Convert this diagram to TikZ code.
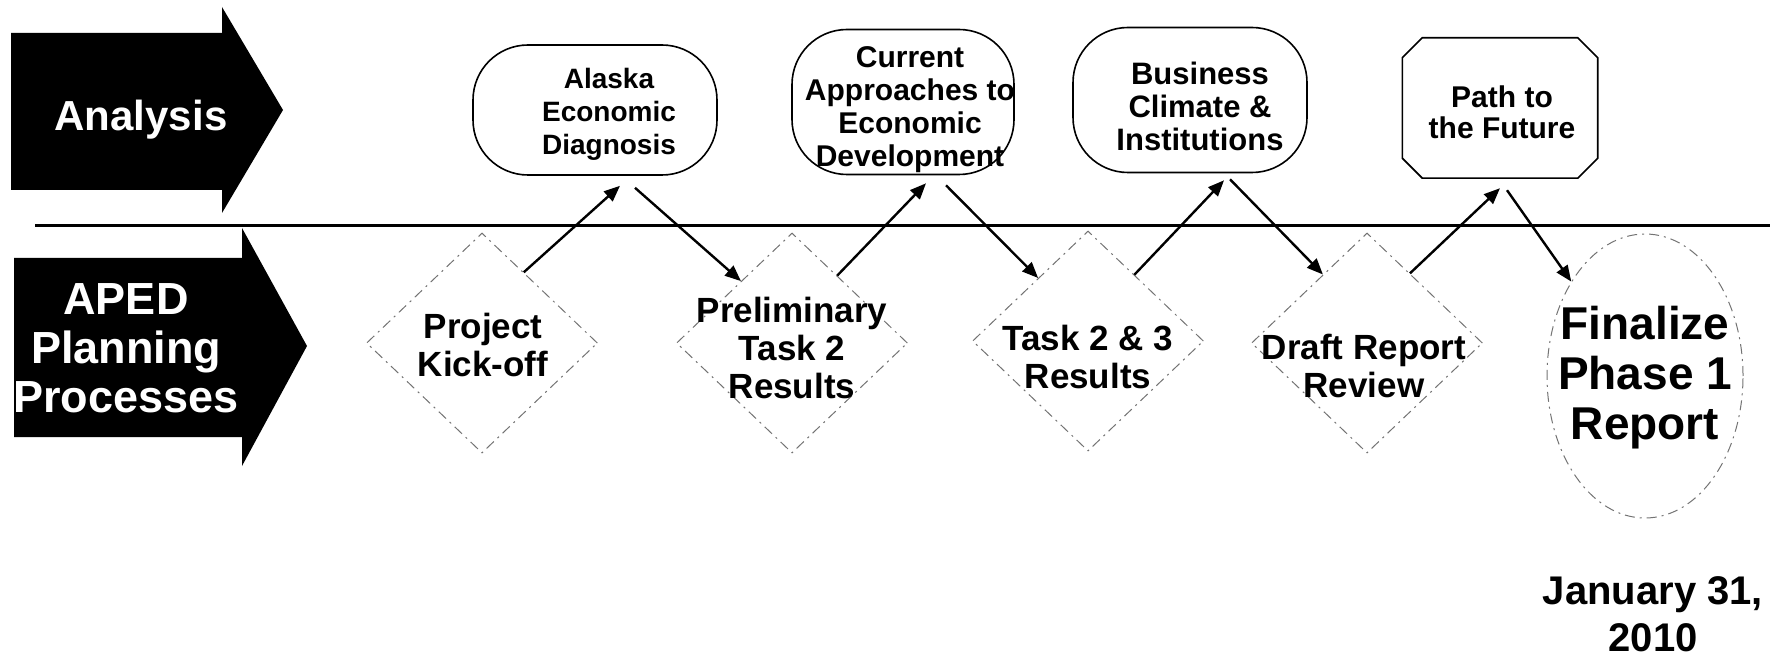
\documentclass[tikz,border=0pt]{standalone}
\usepackage{fontspec}
\setmainfont{Liberation Sans}
\usetikzlibrary{calc,arrows.meta,shapes.geometric}
\begin{document}
\begin{tikzpicture}[x=1pt,y=-1pt,
  anabox/.style={draw,line width=1.6pt,rounded corners=55pt,inner sep=0pt},
  anatext/.style={align=center,inner sep=0pt},
  proc/.style={diamond,draw=black!55,dash pattern=on 10pt off 5pt on 2pt off 5pt,line width=1pt,
    inner sep=0pt,minimum width=231pt,minimum height=220pt},
  proctext/.style={align=center,inner sep=0pt,font=\bfseries\fontsize{35}{38}\selectfont},
  conn/.style={line width=2.4pt,-{Triangle[length=16pt,width=13pt]}},
  bannertext/.style={text=white,align=center,inner sep=0pt}]
\useasboundingbox (0,0) rectangle (1782,660);
% banners
\fill (11,33) -- (222,33) -- (222,7) -- (283,110) -- (222,213) -- (222,190) -- (11,190) -- cycle;
\node[bannertext,font=\bfseries\fontsize{42}{48}\selectfont] (antext) at (141,120) {Analysis};
\fill (14,258) -- (242,258) -- (242,228) -- (307,346) -- (242,466) -- (242,437) -- (14,437) -- cycle;
\node[bannertext,font=\bfseries\fontsize{45}{49}\selectfont] (apedtext) at (126,348) {APED\\Planning\\Processes};
% separator
\coordinate (l0) at (35,226);
\coordinate (l1) at (1770,226);
\draw[line width=3pt] (l0) -- (l1);
% analysis boxes
\node[anabox,minimum width=244pt,minimum height=130pt] (alaska) at (595,110) {};
\node[anatext,font=\bfseries\fontsize{28}{33}\selectfont] (alaskat) at (609,114) {Alaska\\Economic\\Diagnosis};
\node[anabox,minimum width=222pt,minimum height=145pt] (curr) at (903,102) {};
\node[anatext,font=\bfseries\fontsize{30}{33}\selectfont] (currt) at (910,110) {Current\\Approaches to\\Economic\\Development};
\node[anabox,minimum width=234pt,minimum height=145pt] (bus) at (1190,100) {};
\node[anatext,font=\bfseries\fontsize{31}{33}\selectfont] (bust) at (1200,106) {Business\\Climate \&\\Institutions};
\node[inner sep=0pt,minimum width=195pt,minimum height=140pt] (path) at (1500,108) {};
\node[anatext,font=\bfseries\fontsize{30}{31}\selectfont] (patht) at (1502,112) {Path to\\the Future};
\draw[line width=1.6pt] ($(path.north west)+(20,0)$) -- ($(path.north east)+(-20,0)$)
  -- ($(path.north east)+(0,20)$) -- ($(path.south east)+(0,-20)$)
  -- ($(path.south east)+(-20,0)$) -- ($(path.south west)+(20,0)$)
  -- ($(path.south west)+(0,-20)$) -- ($(path.north west)+(0,20)$) -- cycle;
% process diamonds
\node[proc] (kick) at (482,343) {};
\node[proctext] (kickt) at (483,345) {Project\\Kick-off};
\node[proc] (prel) at (792,343) {};
\node[proctext] (prelt) at (792,348) {Preliminary\\Task 2\\Results};
\node[proc] (task) at (1088,341) {};
\node[proctext] (taskt) at (1088,357) {Task 2 \& 3\\Results};
\node[proc] (draft) at (1367,343) {};
\node[proctext] (draftt) at (1364,366) {Draft Report\\Review};
\node[ellipse,draw=black!55,dash pattern=on 10pt off 5pt on 2pt off 5pt,line width=1pt,
  minimum width=196pt,minimum height=284pt] (fin) at (1645,376) {};
\node[align=center,inner sep=0pt,font=\bfseries\fontsize{46}{50}\selectfont] (fint) at (1645,378) {Finalize\\Phase 1\\Report};
\node[align=center,inner sep=0pt,font=\bfseries\fontsize{40}{47}\selectfont] (date) at (1653,614) {January 31,\\2010};
% connectors
\draw[conn] ($(kick.north)!0.36!(kick.east)$) -- ($(alaska.south)+(25,10)$);
\draw[conn] ($(alaska.south)+(40,12)$) -- ($(prel.north)!0.44!(prel.west)$);
\draw[conn] ($(prel.north)!0.39!(prel.east)$) -- ($(curr.south)+(23,8)$);
\draw[conn] ($(curr.south)+(43,10)$) -- ($(task.north)!0.43!(task.west)$);
\draw[conn] ($(task.north)!0.40!(task.east)$) -- ($(bus.south)+(34,7)$);
\draw[conn] ($(bus.south)+(40,6)$) -- ($(draft.north)!0.38!(draft.west)$);
\draw[conn] ($(draft.north)!0.37!(draft.east)$) -- ($(path.south)+(0,10)$);
\draw[conn] ($(path.south)+(7,12)$) -- (fin.128);
\end{tikzpicture}
\end{document}
